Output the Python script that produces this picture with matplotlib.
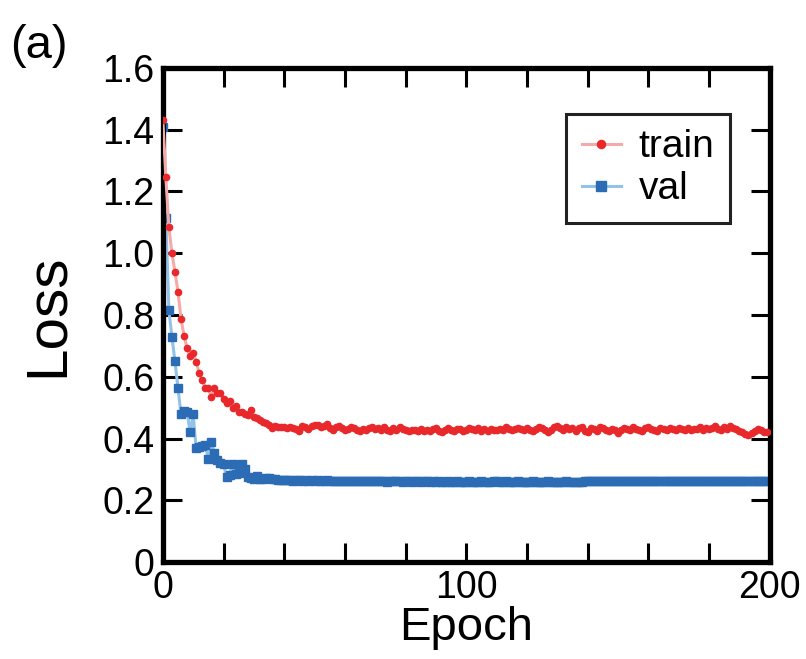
import matplotlib
matplotlib.use('Agg')
import matplotlib.pyplot as plt
from matplotlib.ticker import FixedFormatter, FixedLocator

plt.rcParams['font.family'] = ['Liberation Sans', 'DejaVu Sans']

# loss per epoch
train_loss = [
    1.432, 1.246, 1.084, 1.000, 0.940, 0.875, 0.787, 0.733, 0.692, 0.667,
    0.676, 0.649, 0.611, 0.589, 0.563, 0.563, 0.535, 0.565, 0.548, 0.546,
    0.527, 0.514, 0.520, 0.498, 0.505, 0.487, 0.485, 0.481, 0.475, 0.492,
    0.471, 0.465, 0.460, 0.455, 0.452, 0.445, 0.435, 0.440, 0.436, 0.438,
    0.436, 0.433, 0.438, 0.435, 0.430, 0.424, 0.440, 0.437, 0.432, 0.440,
    0.445, 0.443, 0.436, 0.441, 0.447, 0.433, 0.429, 0.437, 0.442, 0.435,
    0.428, 0.431, 0.437, 0.433, 0.428, 0.425, 0.430, 0.427, 0.433, 0.439,
    0.431, 0.435, 0.428, 0.436, 0.429, 0.426, 0.433, 0.429, 0.437, 0.430,
    0.427, 0.425, 0.429, 0.427, 0.424, 0.430, 0.426, 0.428, 0.424, 0.431,
    0.433, 0.426, 0.420, 0.428, 0.434, 0.429, 0.425, 0.432, 0.430, 0.423,
    0.429, 0.435, 0.431, 0.428, 0.433, 0.426, 0.430, 0.425, 0.431, 0.427,
    0.429, 0.432, 0.427, 0.437, 0.430, 0.428, 0.432, 0.435, 0.430, 0.429,
    0.434, 0.428, 0.423, 0.432, 0.438, 0.433, 0.427, 0.420, 0.428, 0.436,
    0.441, 0.433, 0.427, 0.438, 0.430, 0.435, 0.425, 0.433, 0.438, 0.426,
    0.420, 0.434, 0.431, 0.426, 0.436, 0.433, 0.428, 0.424, 0.432, 0.428,
    0.419, 0.428, 0.434, 0.431, 0.429, 0.436, 0.432, 0.427, 0.423, 0.433,
    0.436, 0.431, 0.427, 0.426, 0.434, 0.432, 0.428, 0.435, 0.430, 0.428,
    0.433, 0.430, 0.429, 0.435, 0.428, 0.432, 0.430, 0.437, 0.429, 0.434,
    0.430, 0.433, 0.441, 0.432, 0.428, 0.436, 0.430, 0.442, 0.435, 0.430,
    0.426, 0.421, 0.414, 0.410, 0.418, 0.426, 0.431, 0.428, 0.422, 0.420,
]

val_loss = [
    1.410, 1.115, 0.815, 0.730, 0.650, 0.565, 0.478, 0.488, 0.487, 0.420,
    0.478, 0.368, 0.372, 0.375, 0.380, 0.333, 0.390, 0.352, 0.330, 0.320,
    0.318, 0.275, 0.283, 0.318, 0.285, 0.288, 0.318, 0.302, 0.275, 0.272,
    0.268, 0.280, 0.270, 0.268, 0.271, 0.273, 0.270, 0.268, 0.265, 0.265,
    0.266, 0.265, 0.267, 0.264, 0.265, 0.266, 0.264, 0.265, 0.263, 0.265,
    0.264, 0.266, 0.263, 0.264, 0.265, 0.263, 0.262, 0.264, 0.263, 0.263,
    0.263, 0.262, 0.263, 0.263, 0.262, 0.263, 0.262, 0.262, 0.263, 0.262,
    0.262, 0.263, 0.262, 0.262, 0.261, 0.262, 0.262, 0.263, 0.262, 0.261,
    0.262, 0.262, 0.261, 0.262, 0.262, 0.261, 0.262, 0.262, 0.261, 0.262,
    0.261, 0.262, 0.261, 0.261, 0.262, 0.261, 0.261, 0.262, 0.261, 0.261,
    0.261, 0.262, 0.261, 0.261, 0.261, 0.262, 0.261, 0.261, 0.261, 0.262,
    0.262, 0.261, 0.261, 0.262, 0.261, 0.261, 0.261, 0.262, 0.261, 0.261,
    0.261, 0.261, 0.262, 0.261, 0.261, 0.261, 0.261, 0.262, 0.261, 0.261,
    0.261, 0.261, 0.261, 0.262, 0.261, 0.261, 0.261, 0.261, 0.261, 0.262,
    0.262, 0.262, 0.262, 0.262, 0.262, 0.262, 0.262, 0.262, 0.262, 0.262,
    0.262, 0.262, 0.262, 0.262, 0.262, 0.262, 0.262, 0.262, 0.262, 0.262,
    0.262, 0.262, 0.262, 0.262, 0.262, 0.262, 0.262, 0.262, 0.262, 0.262,
    0.262, 0.262, 0.262, 0.262, 0.262, 0.262, 0.262, 0.262, 0.262, 0.262,
    0.262, 0.262, 0.262, 0.262, 0.262, 0.262, 0.262, 0.262, 0.262, 0.262,
    0.262, 0.262, 0.262, 0.262, 0.262, 0.262, 0.262, 0.262, 0.262, 0.262,
]

epochs = list(range(len(train_loss)))

x_labels = {0: '0', 100: '100', 200: '200'}
y_ticks = [0, 0.2, 0.4, 0.6, 0.8, 1.0, 1.2, 1.4, 1.6]
y_labels = ['0', '0.2', '0.4', '0.6', '0.8', '1.0', '1.2', '1.4', '1.6']

fig = plt.figure(figsize=(8.06, 6.59), dpi=100)
ax = fig.add_axes([0.202, 0.147, 0.753, 0.750])

ax.plot(epochs, val_loss, color='#92c2e8', lw=2.2, marker='s', ms=6,
        mfc='#2b6cb5', mec='#2b6cb5', label='val', zorder=2)
ax.plot(epochs, train_loss, color='#f5aaaa', lw=2.2, marker='o', ms=4.5,
        mfc='#e8282a', mec='#e8282a', label='train', zorder=3)

ax.set_xlim(0, 200)
ax.set_ylim(0, 1.6)

xt = list(range(0, 201, 20))
ax.xaxis.set_major_locator(FixedLocator(xt))
ax.xaxis.set_major_formatter(FixedFormatter([x_labels.get(t, '') for t in xt]))
ax.yaxis.set_major_locator(FixedLocator(y_ticks))
ax.yaxis.set_major_formatter(FixedFormatter(y_labels))

ax.tick_params(direction='in', length=14, width=2.2, labelsize=27,
               top=True, right=True, pad=6)
for s in ax.spines.values():
    s.set_linewidth(3.8)

ax.set_xlabel('Epoch', fontsize=34, labelpad=0)
ax.set_ylabel('Loss', fontsize=42, labelpad=20)

h, l = ax.get_legend_handles_labels()
leg = ax.legend(h[::-1], l[::-1], loc='upper right', bbox_to_anchor=(0.934, 0.907),
                borderaxespad=0, fontsize=28, fancybox=False, framealpha=1,
                edgecolor='#222222', handlelength=1.0, handletextpad=0.45,
                borderpad=0.4, labelspacing=0.15, markerscale=1.3)
leg.get_frame().set_linewidth(2.2)

fig.text(0.012, 0.912, '(a)', fontsize=34)

fig.savefig('out.png', dpi=100)
